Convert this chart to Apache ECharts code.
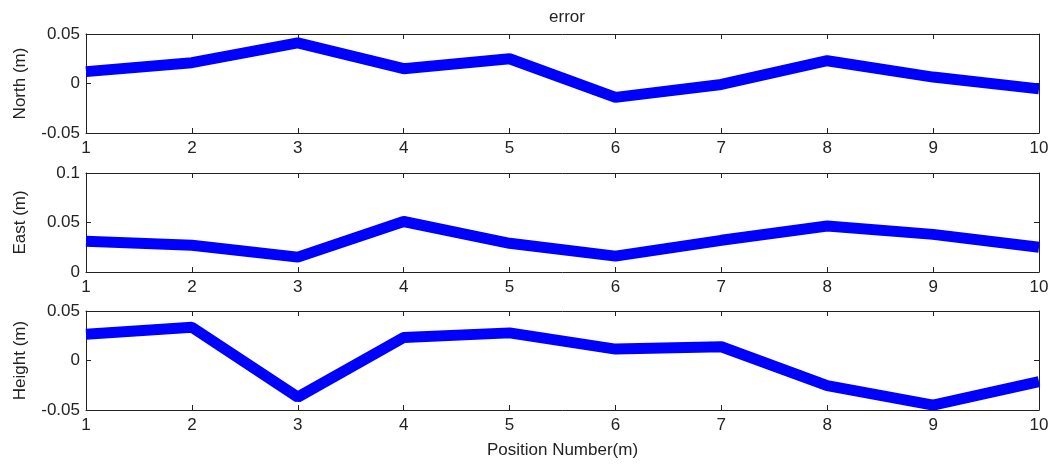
<!DOCTYPE html>
<html>
<head>
<meta charset="utf-8">
<script src="https://cdn.jsdelivr.net/npm/echarts@6/dist/echarts.min.js"></script>
<style>
  html, body { margin: 0; padding: 0; background: #fff; }
  #chart { width: 1054px; height: 466px; }
</style>
</head>
<body>
<div id="chart"></div>
<script>
// position numbers on the x axis
const positions = [1, 2, 3, 4, 5, 6, 7, 8, 9, 10];

// error per position (m)
const northErr  = [0.012, 0.021, 0.041, 0.015, 0.025, -0.014, -0.001, 0.023, 0.0065, -0.0054];
const eastErr   = [0.031, 0.027, 0.015, 0.051, 0.029, 0.016, 0.032, 0.0465, 0.038, 0.025];
const heightErr = [0.0266, 0.0336, -0.037, 0.0233, 0.0279, 0.0115, 0.0139, -0.0253, -0.045, -0.0213];

const panelNames = ['North (m)', 'East (m)', 'Height (m)'];
const panelData = [northErr, eastErr, heightErr];
const yRanges = [[-0.05, 0.05], [0, 0.1], [-0.05, 0.05]];
const gridTops = [34, 173, 311];

const font = 'Liberation Sans, Arial, sans-serif';
const ink = '#222';
const fs = 17;

function tickLabel(v) {
    return String(Math.round(v * 100) / 100);
}

const chart = echarts.init(document.getElementById('chart'));

const grids = [], xAxes = [], yAxes = [], series = [];

panelData.forEach((vals, i) => {
    grids.push({ left: 86, right: 15, top: gridTops[i], height: 99, show: false });

    const baseX = {
        type: 'value', gridIndex: i, min: 1, max: 10, interval: 1,
        axisLine: { show: true, onZero: false, lineStyle: { color: ink, width: 1 } },
        axisTick: { show: true, inside: true, length: 5, lineStyle: { color: ink } },
        splitLine: { show: false }
    };
    xAxes.push(Object.assign({}, baseX, {
        position: 'bottom',
        axisLabel: { color: ink, fontSize: fs, fontFamily: font, margin: 7 },
        name: i === 2 ? 'Position Number(m)' : '',
        nameLocation: 'middle', nameGap: 32,
        nameTextStyle: { color: ink, fontSize: fs, fontFamily: font }
    }));
    xAxes.push(Object.assign({}, baseX, {
        position: 'top',
        axisLabel: { show: false }
    }));

    const baseY = {
        type: 'value', gridIndex: i, min: yRanges[i][0], max: yRanges[i][1], interval: 0.05,
        axisLine: { show: true, onZero: false, lineStyle: { color: ink, width: 1 } },
        axisTick: { show: true, inside: true, length: 5, lineStyle: { color: ink } },
        splitLine: { show: false }
    };
    yAxes.push(Object.assign({}, baseY, {
        position: 'left',
        axisLabel: { color: ink, fontSize: fs, fontFamily: font, margin: 6, formatter: tickLabel },
        name: panelNames[i], nameLocation: 'middle', nameGap: 57,
        nameTextStyle: { color: ink, fontSize: fs, fontFamily: font }
    }));
    yAxes.push(Object.assign({}, baseY, {
        position: 'right',
        axisLabel: { show: false }
    }));

    series.push({
        type: 'line',
        xAxisIndex: i * 2,
        yAxisIndex: i * 2,
        data: positions.map((p, k) => [p, vals[k]]),
        symbol: 'none',
        clip: true,
        lineStyle: { color: '#0000ff', width: 11 },
        animation: false
    });
});

chart.setOption({
    animation: false,
    title: {
        text: 'error', left: 562, top: 4, textAlign: 'center',
        textStyle: { color: ink, fontSize: fs, fontWeight: 'normal', fontFamily: font }
    },
    grid: grids,
    xAxis: xAxes,
    yAxis: yAxes,
    series: series
});
</script>
</body>
</html>
